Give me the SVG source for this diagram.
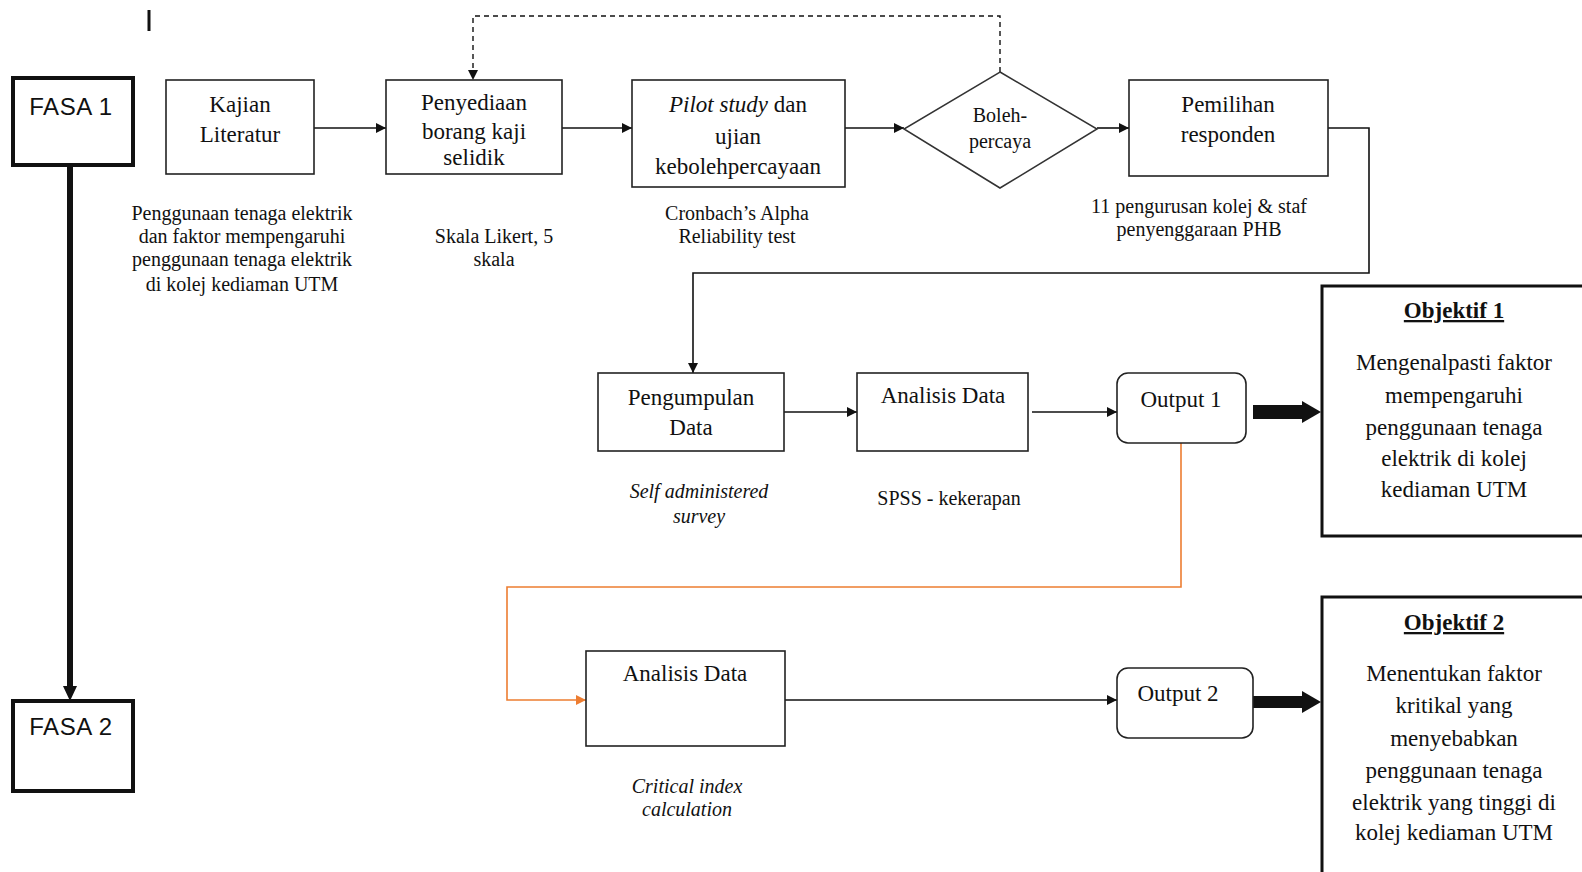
<svg xmlns="http://www.w3.org/2000/svg" width="1582" height="872" viewBox="0 0 1582 872">
<style>
.box{fill:#fff;stroke:#222;stroke-width:1.6}
.fasa{fill:#fff;stroke:#111;stroke-width:4}
.obj{fill:#fff;stroke:#111;stroke-width:3}
.t{font-family:"Liberation Serif","Times New Roman",serif;font-size:23px;fill:#111;text-anchor:middle}
.d{font-family:"Liberation Serif","Times New Roman",serif;font-size:20px;fill:#111;text-anchor:middle}
.l{font-family:"Liberation Serif","Times New Roman",serif;font-size:20px;fill:#111;text-anchor:middle}
.s{font-family:"Liberation Sans",Arial,sans-serif;font-size:24px;letter-spacing:0.6px;fill:#111;text-anchor:middle}
.i{font-style:italic}
.b{font-weight:bold;text-decoration:underline}
.c{fill:none;stroke:#111;stroke-width:1.6}
.dash{fill:none;stroke:#111;stroke-width:1.4;stroke-dasharray:5,4}
.or{fill:none;stroke:#ED7D31;stroke-width:1.6}
</style>
<defs>
<marker id="a" markerWidth="10" markerHeight="10" refX="10" refY="5" orient="auto" markerUnits="userSpaceOnUse"><path d="M0,0 L10,5 L0,10 z" fill="#111"/></marker>
<marker id="ao" markerWidth="10" markerHeight="10" refX="10" refY="5" orient="auto" markerUnits="userSpaceOnUse"><path d="M0,0 L10,5 L0,10 z" fill="#ED7D31"/></marker>
</defs>

<line x1="149" y1="10" x2="149" y2="31" stroke="#111" stroke-width="3"/>

<g id="connectors">
<path class="c" d="M314,128 H386" marker-end="url(#a)"/>
<path class="c" d="M562,128 H632" marker-end="url(#a)"/>
<path class="c" d="M845,128 H904" marker-end="url(#a)"/>
<path class="c" d="M1097,128 H1129" marker-end="url(#a)"/>
<path class="dash" d="M1000,72 V16 H473 V80" marker-end="url(#a)"/>
<path class="c" d="M1328,128 H1369 V273 H693 V373" marker-end="url(#a)"/>
<path class="c" d="M784,412 H857" marker-end="url(#a)"/>
<path class="c" d="M1032,412 H1117" marker-end="url(#a)"/>
<path class="or" d="M1181,443 V587 H507 V700 H586" marker-end="url(#ao)"/>
<path class="c" d="M785,700 H1117" marker-end="url(#a)"/>
<line x1="70" y1="165" x2="70" y2="688" stroke="#111" stroke-width="6"/>
<polygon points="63,686 77,686 70,701" fill="#111"/>
<rect x="1253" y="405" width="50" height="14" fill="#111"/>
<polygon points="1302,401 1321,412 1302,423" fill="#111"/>
<rect x="1253" y="696" width="50" height="12" fill="#111"/>
<polygon points="1302,691 1321,702 1302,713" fill="#111"/>
</g>

<g id="fasa1"><rect class="fasa" x="13" y="78" width="120" height="87"/><text class="s" x="71" y="115">FASA 1</text></g>
<g id="fasa2"><rect class="fasa" x="13" y="701" width="120" height="90"/><text class="s" x="71" y="735">FASA 2</text></g>

<g id="kajian"><rect class="box" x="166" y="80" width="148" height="94"/>
<text class="t" x="240" y="112">Kajian</text><text class="t" x="240" y="142">Literatur</text></g>

<g id="penyediaan"><rect class="box" x="386" y="80" width="176" height="94"/>
<text class="t" x="474" y="110">Penyediaan</text><text class="t" x="474" y="139">borang kaji</text><text class="t" x="474" y="165">selidik</text></g>

<g id="pilot"><rect class="box" x="632" y="80" width="213" height="107"/>
<text class="t" x="738" y="112"><tspan class="i">Pilot study</tspan> dan</text><text class="t" x="738" y="144">ujian</text><text class="t" x="738" y="174">kebolehpercayaan</text></g>

<g id="bolehpercaya"><polygon points="1000,72 1097,129 1000,188 904,129" fill="#fff" stroke="#333" stroke-width="1.5"/>
<text class="d" x="1000" y="122">Boleh-</text><text class="d" x="1000" y="148">percaya</text></g>

<g id="pemilihan"><rect class="box" x="1129" y="80" width="199" height="96"/>
<text class="t" x="1228" y="112">Pemilihan</text><text class="t" x="1228" y="142">responden</text></g>

<g id="pengumpulan"><rect class="box" x="598" y="373" width="186" height="78"/>
<text class="t" x="691" y="405">Pengumpulan</text><text class="t" x="691" y="435">Data</text></g>

<g id="analisis1"><rect class="box" x="857" y="373" width="171" height="78"/>
<text class="t" x="943" y="403">Analisis Data</text></g>

<g id="output1"><rect class="box" x="1117" y="373" width="129" height="70" rx="11"/>
<text class="t" x="1181" y="407">Output 1</text></g>

<g id="objektif1"><rect class="obj" x="1322" y="286" width="272" height="250"/>
<text class="t b" x="1454" y="318">Objektif 1</text>
<text class="t" x="1454" y="370">Mengenalpasti  faktor</text>
<text class="t" x="1454" y="403">mempengaruhi</text>
<text class="t" x="1454" y="435">penggunaan tenaga</text>
<text class="t" x="1454" y="466">elektrik di kolej</text>
<text class="t" x="1454" y="497">kediaman UTM</text></g>

<g id="analisis2"><rect class="box" x="586" y="651" width="199" height="95"/>
<text class="t" x="685" y="681">Analisis Data</text></g>

<g id="output2"><rect class="box" x="1117" y="668" width="136" height="70" rx="11"/>
<text class="t" x="1178" y="701">Output 2</text></g>

<g id="objektif2"><rect class="obj" x="1322" y="597" width="272" height="300"/>
<text class="t b" x="1454" y="630">Objektif 2</text>
<text class="t" x="1454" y="681">Menentukan faktor</text>
<text class="t" x="1454" y="713">kritikal yang</text>
<text class="t" x="1454" y="746">menyebabkan</text>
<text class="t" x="1454" y="778">penggunaan tenaga</text>
<text class="t" x="1454" y="810">elektrik yang tinggi di</text>
<text class="t" x="1454" y="840">kolej kediaman UTM</text></g>

<g id="labels">
<text class="l" x="242" y="220">Penggunaan tenaga elektrik</text>
<text class="l" x="242" y="243">dan faktor mempengaruhi</text>
<text class="l" x="242" y="266">penggunaan tenaga elektrik</text>
<text class="l" x="242" y="291">di kolej kediaman  UTM</text>
<text class="l" x="494" y="243">Skala Likert, 5</text>
<text class="l" x="494" y="266">skala</text>
<text class="l" x="737" y="220">Cronbach’s Alpha</text>
<text class="l" x="737" y="243">Reliability test</text>
<text class="l" x="1199" y="213">11 pengurusan kolej &amp; staf</text>
<text class="l" x="1199" y="236">penyenggaraan PHB</text>
<text class="l i" x="699" y="498">Self administered</text>
<text class="l i" x="699" y="523">survey</text>
<text class="l" x="949" y="505">SPSS - kekerapan</text>
<text class="l i" x="687" y="793">Critical index</text>
<text class="l i" x="687" y="816">calculation</text>
</g>
</svg>
